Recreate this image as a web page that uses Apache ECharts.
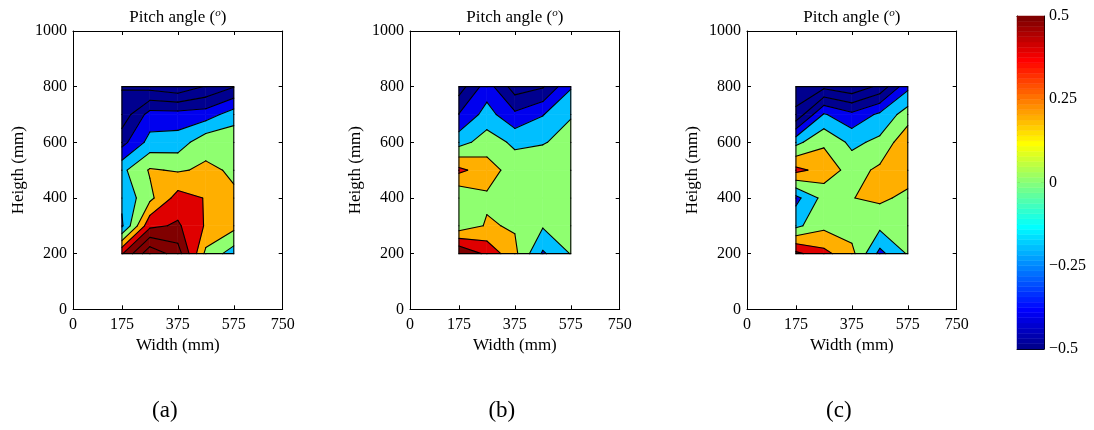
<!DOCTYPE html>
<html>
<head>
<meta charset="utf-8">
<script src="https://cdn.jsdelivr.net/npm/echarts@6/dist/echarts.min.js"></script>
<style>
  html, body { margin: 0; padding: 0; background: #fff; }
  #chart { width: 1094px; height: 430px; }
</style>
</head>
<body>
<div id="chart"></div>
<script>
// Measurement grid: columns (width, mm) and rows (height, mm)
const widthMM = [175, 275, 375, 475, 575];
const heightMM = [200, 300, 400, 500, 600, 700, 800];

// Pitch angle at each grid node; one row per height, bottom (200 mm) to top (800 mm)
const pitchA = [
  [ 0.48,  1.05,  0.80,  0.05, -0.20],
  [-0.33,  0.45,  0.53,  0.28,  0.16],
  [-0.26,  0.05,  0.38,  0.29,  0.12],
  [-0.15,  0.12,  0.08,  0.13,  0.08],
  [-0.57, -0.23, -0.21,  0.04,  0.05],
  [-0.83, -0.42, -0.42, -0.40, -0.20],
  [-0.91, -0.97, -1.05, -0.88, -0.71]
];
const pitchB = [
  [ 0.70,  0.45,  0.15, -0.33, -0.09],
  [-0.03,  0.12,  0.08, -0.08, -0.02],
  [-0.09,  0.07,  0.00,  0.00,  0.00],
  [ 0.35,  0.19,  0.01,  0.00,  0.00],
  [-0.18,  0.00, -0.14, -0.11, -0.05],
  [-0.49, -0.22, -0.46, -0.31, -0.11],
  [-0.80, -0.40, -0.80, -0.72, -0.32]
];
const pitchC = [
  [ 0.55,  0.36,  0.16, -0.36, -0.08],
  [-0.15,  0.05,  0.00, -0.05,  0.00],
  [-0.36, -0.03,  0.095, 0.14,  0.05],
  [ 0.36,  0.22,  0.02,  0.14,  0.20],
  [-0.16,  0.07, -0.15, -0.05,  0.25],
  [-0.86, -0.28, -0.45, -0.26,  0.00],
  [-1.00, -0.95, -1.05, -0.85, -0.35]
];

const contourLevels = [-0.9, -0.7, -0.5, -0.3, -0.1, 0.1, 0.3, 0.5, 0.7, 0.9];
const colorLimits = [-0.5, 0.5];
const widthTicks = [0, 175, 375, 575, 750];
const colorbarTicks = [-0.5, -0.25, 0, 0.25, 0.5];
const panelLabels = ['(a)', '(b)', '(c)'];
const panelTitle = 'Pitch angle (';
const xName = 'Width (mm)';
const yName = 'Heigth (mm)';

const FONT = '"Liberation Serif", "Times New Roman", serif';

// MATLAB-style jet(64) colormap entry, k = 1..64
function jetColor(k) {
  const n = 16, u = [];
  for (let i = 1; i <= n; i++) u.push(i / n);
  for (let i = 1; i < n; i++) u.push(1);
  for (let i = n; i >= 1; i--) u.push(i / n);
  const at = p => (p >= 1 && p <= u.length) ? u[p - 1] : 0;
  const r = at(k - 24), g = at(k - 8), b = at(k + 8);
  const h = x => Math.round(x * 255);
  return 'rgb(' + h(r) + ',' + h(g) + ',' + h(b) + ')';
}
function valueColor(v) {
  const t = (v - colorLimits[0]) / (colorLimits[1] - colorLimits[0]);
  const k = Math.min(64, Math.max(1, Math.floor(t * 64) + 1));
  return jetColor(k);
}
function bandColor(lo, hi) {
  let mid;
  if (isFinite(lo) && isFinite(hi)) mid = (lo + hi) / 2;
  else if (isFinite(lo)) mid = lo + 0.1;
  else mid = hi - 0.1;
  return valueColor(mid);
}

// Sutherland-Hodgman clip of a polygon with linearly varying node values
function clip(poly, level, keepAbove) {
  const out = [];
  for (let i = 0; i < poly.length; i++) {
    const a = poly[i], b = poly[(i + 1) % poly.length];
    const ina = keepAbove ? a.v >= level : a.v <= level;
    const inb = keepAbove ? b.v >= level : b.v <= level;
    if (ina) out.push(a);
    if (ina !== inb) {
      const t = (level - a.v) / (b.v - a.v);
      out.push({ x: a.x + t * (b.x - a.x), y: a.y + t * (b.y - a.y), v: level });
    }
  }
  return out;
}

function cellQuad(grid, i, j) {
  return [
    { x: widthMM[i],     y: heightMM[j],     v: grid[j][i] },
    { x: widthMM[i + 1], y: heightMM[j],     v: grid[j][i + 1] },
    { x: widthMM[i + 1], y: heightMM[j + 1], v: grid[j + 1][i + 1] },
    { x: widthMM[i],     y: heightMM[j + 1], v: grid[j + 1][i] }
  ];
}

function fillRenderer(grid) {
  return function (params, api) {
    const i = api.value(2), j = api.value(3);
    const quad = cellQuad(grid, i, j);
    const edges = [-Infinity].concat(contourLevels, [Infinity]);
    const children = [];
    for (let b = 0; b < edges.length - 1; b++) {
      let poly = quad;
      if (isFinite(edges[b])) poly = clip(poly, edges[b], true);
      if (poly.length >= 3 && isFinite(edges[b + 1])) poly = clip(poly, edges[b + 1], false);
      if (poly.length < 3) continue;
      const c = bandColor(edges[b], edges[b + 1]);
      children.push({
        type: 'polygon',
        shape: { points: poly.map(p => api.coord([p.x, p.y])) },
        style: { fill: c, stroke: c, lineWidth: 0.6 }
      });
    }
    return { type: 'group', children: children };
  };
}

function lineRenderer(grid) {
  const nc = widthMM.length - 1, nr = heightMM.length - 1;
  return function (params, api) {
    const i = api.value(2), j = api.value(3);
    const q = cellQuad(grid, i, j);
    const children = [];
    const seg = (p1, p2) => {
      const a = api.coord([p1.x, p1.y]), b = api.coord([p2.x, p2.y]);
      children.push({
        type: 'line',
        shape: { x1: a[0], y1: a[1], x2: b[0], y2: b[1] },
        style: { stroke: '#000', lineWidth: 1.1, lineCap: 'round' }
      });
    };
    contourLevels.forEach(L => {
      const pts = [];
      for (let e = 0; e < 4; e++) {
        const a = q[e], b = q[(e + 1) % 4];
        if ((a.v >= L) !== (b.v >= L)) {
          const t = (L - a.v) / (b.v - a.v);
          pts.push({ x: a.x + t * (b.x - a.x), y: a.y + t * (b.y - a.y) });
        }
      }
      if (pts.length === 2) seg(pts[0], pts[1]);
      else if (pts.length === 4) {
        if (q[0].v >= L) { seg(pts[0], pts[1]); seg(pts[2], pts[3]); }
        else { seg(pts[3], pts[0]); seg(pts[1], pts[2]); }
      }
    });
    // outline of the measured area
    if (j === 0) seg(q[0], q[1]);
    if (i === nc - 1) seg(q[1], q[2]);
    if (j === nr - 1) seg(q[2], q[3]);
    if (i === 0) seg(q[3], q[0]);
    return { type: 'group', children: children };
  };
}

const cells = [];
for (let j = 0; j < heightMM.length - 1; j++) {
  for (let i = 0; i < widthMM.length - 1; i++) {
    cells.push([widthMM[i], heightMM[j], i, j]);
  }
}

const panels = [pitchA, pitchB, pitchC];
const panelLeft = [73, 410, 747];
const plotW = 209.7, plotTop = 31, plotH = 278.3;

const lineStyle = { color: '#000', width: 1 };
const labelStyle = { color: '#000', fontFamily: FONT, fontSize: 16 };

const grids = [], xAxes = [], yAxes = [], series = [], titles = [], graphics = [];

panels.forEach((grid, p) => {
  grids.push({ left: panelLeft[p], top: plotTop, width: plotW, height: plotH, containLabel: false });
  xAxes.push({
    gridIndex: p, type: 'value', min: 0, max: 750, position: 'bottom',
    axisLine: { show: true, onZero: false, lineStyle },
    axisTick: { show: true, inside: true, length: 4, customValues: widthTicks, lineStyle },
    axisLabel: { show: true, customValues: widthTicks, margin: 7, ...labelStyle, formatter: v => String(v) },
    splitLine: { show: false },
    name: xName, nameLocation: 'middle', nameGap: 26,
    nameTextStyle: { color: '#000', fontFamily: FONT, fontSize: 17 }
  });
  xAxes.push({
    gridIndex: p, type: 'value', min: 0, max: 750, position: 'top',
    axisLine: { show: true, onZero: false, lineStyle },
    axisTick: { show: true, inside: true, length: 4, customValues: widthTicks, lineStyle },
    axisLabel: { show: false }, splitLine: { show: false }
  });
  yAxes.push({
    gridIndex: p, type: 'value', min: 0, max: 1000, interval: 200, position: 'left',
    axisLine: { show: true, onZero: false, lineStyle },
    axisTick: { show: true, inside: true, length: 4, lineStyle },
    axisLabel: { show: true, margin: 6, ...labelStyle, formatter: v => String(v) },
    splitLine: { show: false },
    name: yName, nameLocation: 'middle', nameGap: 46,
    nameTextStyle: { color: '#000', fontFamily: FONT, fontSize: 17 }
  });
  yAxes.push({
    gridIndex: p, type: 'value', min: 0, max: 1000, interval: 200, position: 'right',
    axisLine: { show: true, onZero: false, lineStyle },
    axisTick: { show: true, inside: true, length: 4, lineStyle },
    axisLabel: { show: false }, splitLine: { show: false }
  });
  series.push({
    type: 'custom', xAxisIndex: p * 2, yAxisIndex: p * 2, z: 2,
    data: cells, encode: { x: 0, y: 1 }, silent: true,
    renderItem: fillRenderer(grid)
  });
  series.push({
    type: 'custom', xAxisIndex: p * 2, yAxisIndex: p * 2, z: 3,
    data: cells, encode: { x: 0, y: 1 }, silent: true,
    renderItem: lineRenderer(grid)
  });
  titles.push({
    text: panelTitle + '{sup|o})',
    left: panelLeft[p] + plotW / 2, top: 8, textAlign: 'center', padding: 0,
    textStyle: {
      color: '#000', fontFamily: FONT, fontSize: 17, fontWeight: 'normal', lineHeight: 20,
      rich: { sup: { fontFamily: FONT, fontSize: 11, fontStyle: 'italic', verticalAlign: 'top', lineHeight: 12, color: '#000' } }
    }
  });
  graphics.push({
    type: 'text', x: panelLeft[p] + plotW / 2 - 13, y: 411,
    style: { text: panelLabels[p], font: '23px ' + FONT, fill: '#000', align: 'center', verticalAlign: 'middle' }
  });
});

// Colorbar
const cbIndex = 3;
grids.push({ left: 1017, top: 16, width: 27, height: 333 });
xAxes.push({
  gridIndex: cbIndex, type: 'value', min: 0, max: 1, position: 'bottom',
  axisLine: { show: true, onZero: false, lineStyle },
  axisTick: { show: false }, axisLabel: { show: false }, splitLine: { show: false }
});
xAxes.push({
  gridIndex: cbIndex, type: 'value', min: 0, max: 1, position: 'top',
  axisLine: { show: true, onZero: false, lineStyle },
  axisTick: { show: false }, axisLabel: { show: false }, splitLine: { show: false }
});
yAxes.push({
  gridIndex: cbIndex, type: 'value', min: -0.5, max: 0.5, interval: 0.25, position: 'left',
  axisLine: { show: true, onZero: false, lineStyle },
  axisTick: { show: true, inside: true, length: 3, lineStyle },
  axisLabel: { show: false }, splitLine: { show: false }
});
yAxes.push({
  gridIndex: cbIndex, type: 'value', min: -0.5, max: 0.5, interval: 0.25, position: 'right',
  axisLine: { show: true, onZero: false, lineStyle },
  axisTick: { show: true, inside: true, length: 3, lineStyle },
  axisLabel: {
    show: true, margin: 5, ...labelStyle,
    formatter: v => (v === 0 ? '0' : (v < 0 ? '\u2212' + String(Math.abs(v)) : String(v)))
  },
  splitLine: { show: false }
});
const cbSteps = [];
for (let k = 1; k <= 64; k++) cbSteps.push([0.5, k]);
series.push({
  type: 'custom', xAxisIndex: 6, yAxisIndex: 6, z: 2, silent: true,
  data: cbSteps, encode: { x: 0, y: -1 },
  renderItem: function (params, api) {
    const k = api.value(1);
    const lo = colorLimits[0] + (k - 1) / 64 * (colorLimits[1] - colorLimits[0]);
    const hi = colorLimits[0] + k / 64 * (colorLimits[1] - colorLimits[0]);
    const a = api.coord([0, hi]), b = api.coord([1, lo]);
    const c = jetColor(k);
    return {
      type: 'rect',
      shape: { x: a[0], y: a[1], width: b[0] - a[0], height: b[1] - a[1] },
      style: { fill: c, stroke: c, lineWidth: 0.5 }
    };
  }
});

const chart = echarts.init(document.getElementById('chart'), null, { renderer: 'canvas', width: 1094, height: 430 });
chart.setOption({
  animation: false,
  backgroundColor: '#fff',
  title: titles,
  grid: grids,
  xAxis: xAxes,
  yAxis: yAxes,
  series: series,
  graphic: graphics
});
</script>
</body>
</html>
